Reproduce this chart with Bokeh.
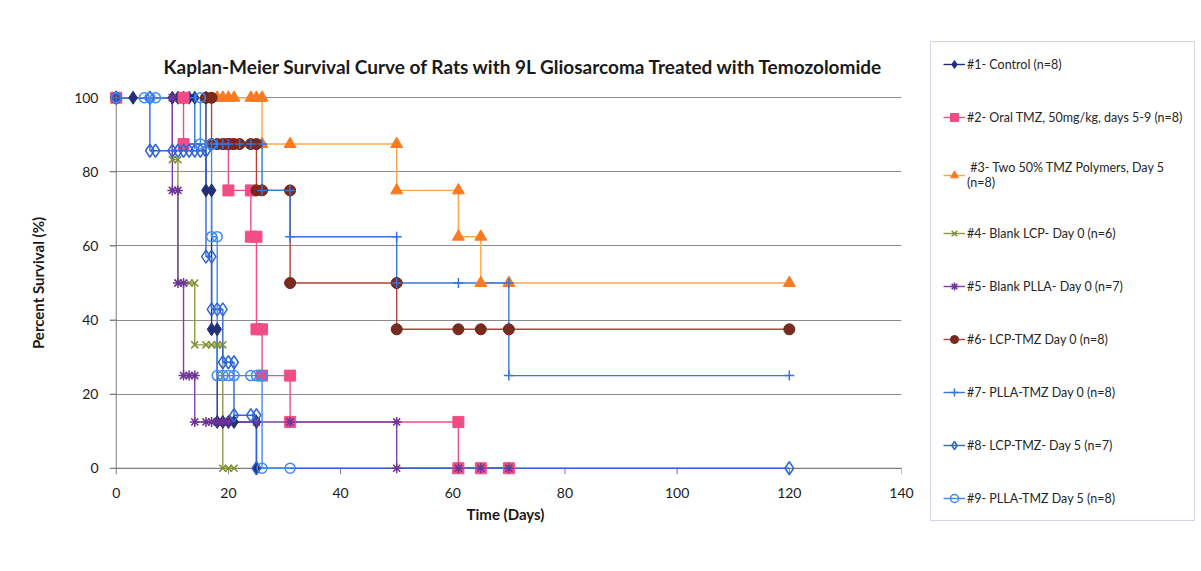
from bokeh.plotting import figure
from bokeh.models import Range1d, FixedTicker, Legend, LegendItem
from bokeh.embed import file_html
from bokeh.resources import INLINE

# ---------------- data (days, percent survival) ----------------
s1_x = [0, 3, 10, 11, 12, 13, 14, 16, 16, 17, 17, 18, 18, 19, 20, 21, 25, 25]
s1_y = [100, 100, 100, 100, 100, 100, 100, 100, 75, 75, 37.5, 37.5, 12.5, 12.5, 12.5, 12.5, 12.5, 0]

s2_x = [0, 12, 12, 20, 20, 24, 24, 25, 25, 26, 26, 31, 31, 61, 61, 65, 70]
s2_y = [100, 100, 87.5, 87.5, 75, 75, 62.5, 62.5, 37.5, 37.5, 25, 25, 12.5, 12.5, 0, 0, 0]

s3_x = [0, 18, 19, 20, 21, 24, 25, 26, 26, 31, 50, 50, 61, 61, 65, 65, 70, 120]
s3_y = [100, 100, 100, 100, 100, 100, 100, 100, 87.5, 87.5, 87.5, 75, 75, 62.5, 62.5, 50, 50, 50]

s4_x = [0, 10, 10, 11, 11, 13, 14, 14, 16, 17, 18, 19, 19, 20, 21]
s4_y = [100, 100, 83.3, 83.3, 50, 50, 50, 33.3, 33.3, 33.3, 33.3, 33.3, 0, 0, 0]

s5_x = [0, 10, 10, 11, 11, 12, 12, 13, 14, 14, 16, 17, 18, 19, 20, 25, 31, 50, 50, 61, 65, 70]
s5_y = [100, 100, 75, 75, 50, 50, 25, 25, 25, 12.5, 12.5, 12.5, 12.5, 12.5, 12.5, 12.5, 12.5, 12.5, 0, 0, 0, 0]

s6_x = [0, 16, 17, 17, 18, 19, 20, 21, 22, 24, 25, 25, 26, 31, 31, 50, 50, 61, 65, 70, 120]
s6_y = [100, 100, 100, 87.5, 87.5, 87.5, 87.5, 87.5, 87.5, 87.5, 87.5, 75, 75, 75, 50, 50, 37.5, 37.5, 37.5, 37.5, 37.5]

s7_x = [0, 14, 14, 17, 18, 19, 20, 22, 24, 26, 26, 31, 31, 50, 50, 61, 70, 70, 120]
s7_y = [100, 100, 87.5, 87.5, 87.5, 87.5, 87.5, 87.5, 87.5, 87.5, 75, 75, 62.5, 62.5, 50, 50, 50, 25, 25]

s8_x = [0, 6, 6, 7, 10, 11, 12, 13, 14, 15, 16, 16, 17, 17, 18, 19, 19, 20, 21, 21, 24, 25, 25, 120]
s8_y = [100, 100, 85.7, 85.7, 85.7, 85.7, 85.7, 85.7, 85.7, 85.7, 85.7, 57.1, 57.1, 42.9, 42.9, 42.9,
        28.6, 28.6, 28.6, 14.3, 14.3, 14.3, 0, 0]

s9_x = [0, 5, 6, 7, 15, 15, 17, 17, 18, 18, 19, 20, 21, 24, 25, 26, 26, 31]
s9_y = [100, 100, 100, 100, 100, 87.5, 87.5, 62.5, 62.5, 25, 25, 25, 25, 25, 25, 25, 0, 0]

labels = [
    "#1- Control (n=8)",
    "#2- Oral TMZ, 50mg/kg, days 5-9 (n=8)",
    " #3- Two 50% TMZ Polymers, Day 5\n(n=8)",
    "#4- Blank LCP- Day 0 (n=6)",
    "#5- Blank PLLA- Day 0 (n=7)",
    "#6- LCP-TMZ Day 0 (n=8)",
    "#7- PLLA-TMZ Day 0 (n=8)",
    "#8- LCP-TMZ- Day 5 (n=7)",
    "#9- PLLA-TMZ Day 5 (n=8)",
]

x_ticks = [0, 20, 40, 60, 80, 100, 120, 140]
y_ticks = [0, 20, 40, 60, 80, 100]

title = "Kaplan-Meier Survival Curve of Rats with 9L Gliosarcoma Treated with Temozolomide"
x_title = "Time (Days)"
y_title = "Percent Survival (%)"

# ---------------- styles ----------------
series = [
    (s1_x, s1_y, "#22307A", "#22307A", "#22307A", "diamond", 13),
    (s2_x, s2_y, "#F24C86", "#F24C86", "#F24C86", "square", 11),
    (s3_x, s3_y, "#FFA64D", "#F97A22", "#F97A22", "triangle", 12),
    (s4_x, s4_y, "#8C9C3C", "#7D8F2E", None, "x", 10),
    (s5_x, s5_y, "#8040A8", "#6E3596", None, "asterisk", 10),
    (s6_x, s6_y, "#B8403A", "#6E2418", "#7A2A1E", "circle", 11),
    (s7_x, s7_y, "#3775D8", "#3775D8", None, "cross", 10),
    (s8_x, s8_y, "#2E66DA", "#2E66DA", None, "diamond", 13),
    (s9_x, s9_y, "#3D8BF2", "#3D8BF2", None, "circle", 10),
]

FONT = "Lato"
LEFT, TOP, BOTTOM = 109, 88, 94

p = figure(frame_width=792, frame_height=389, x_range=Range1d(-1.2, 140), y_range=Range1d(-2.5, 102.5),
           output_backend="svg", toolbar_location=None,
           min_border_left=LEFT, min_border_right=0, min_border_top=TOP, min_border_bottom=BOTTOM)
p.outline_line_color = None
p.background_fill_color = "white"
p.border_fill_color = "white"

p.title.text = title
p.title.text_font = FONT
p.title.text_font_size = "19px"
p.title.text_font_style = "bold"
p.title.text_color = "#1a1a1a"
p.title.align = "left"
p.title.offset = 54
p.title.standoff = 22

p.xgrid.visible = False
p.ygrid.ticker = FixedTicker(ticks=y_ticks)
p.ygrid.grid_line_color = "#8C8C8C"
p.ygrid.grid_line_width = 1

for ax, ticks in ((p.xaxis, x_ticks), (p.yaxis, y_ticks)):
    ax.ticker = FixedTicker(ticks=ticks)
    ax.axis_line_color = None
    ax.major_tick_line_color = None
    ax.minor_tick_line_color = None
    ax.major_label_text_font = FONT
    ax.major_label_text_font_size = "14px"
    ax.major_label_text_color = "#1a1a1a"
    ax.axis_label_text_font = FONT
    ax.axis_label_text_font_size = "15px"
    ax.axis_label_text_font_style = "bold"
    ax.axis_label_text_color = "#1a1a1a"

p.xaxis.axis_label = x_title
p.yaxis.axis_label = y_title
p.xaxis.major_label_standoff = 4
p.xaxis.axis_label_standoff = 4
p.yaxis.major_label_standoff = 5
p.yaxis.axis_label_standoff = 24

# axis lines at x=0 / y=0 and outward ticks
p.segment(x0=[0], y0=[0], x1=[x_ticks[-1]], y1=[0], line_color="#7A7A7A", line_width=1)
p.segment(x0=[0], y0=[0], x1=[0], y1=[y_ticks[-1]], line_color="#7A7A7A", line_width=1)
p.segment(x0=x_ticks, y0=[0] * len(x_ticks), x1=x_ticks, y1=[-1.6] * len(x_ticks),
          line_color="#7A7A7A", line_width=1)
p.segment(x0=[0] * len(y_ticks), y0=y_ticks, x1=[-1.1] * len(y_ticks), y1=y_ticks,
          line_color="#7A7A7A", line_width=1)

line_rs, mark_rs = [], []
for xs, ys, lc, mc, fc, mk, sz in series:
    line_rs.append(p.line(xs, ys, line_color=lc, line_width=1.4))
for xs, ys, lc, mc, fc, mk, sz in series:
    mark_rs.append(p.scatter(xs, ys, marker=mk, size=sz, line_color=mc, fill_color=fc,
                             line_width=1.5 if fc is None else 1))

items = [LegendItem(label=lab, renderers=[lr, mr]) for lab, lr, mr in zip(labels, line_rs, mark_rs)]
legend = Legend(items=items, location=(29, -44), orientation="vertical",
                label_text_font=FONT, label_text_font_size="12.5px", label_text_color="#262626",
                glyph_width=22, glyph_height=20, label_height=20, label_standoff=2,
                spacing=33, padding=12, margin=0,
                border_line_color="#A8A6D2", border_line_width=1.2,
                background_fill_color="white", background_fill_alpha=1.0)
p.add_layout(legend, "right")

open("out.html", "w").write(file_html(p, INLINE))
